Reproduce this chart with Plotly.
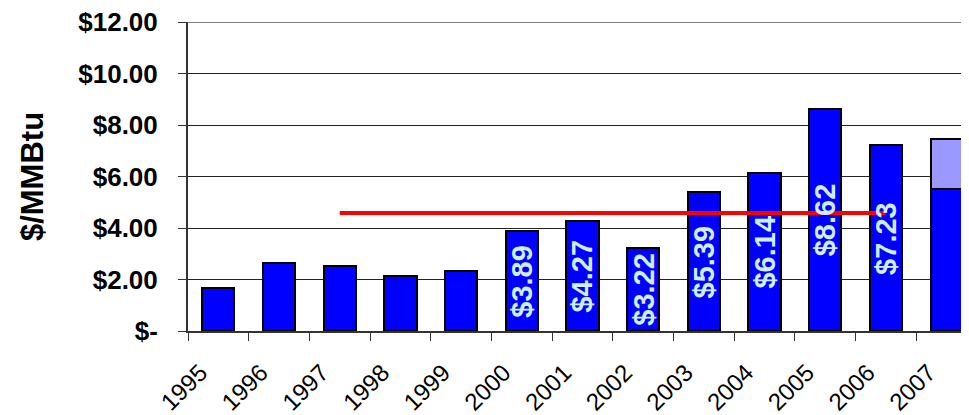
import plotly.graph_objects as go

years = ["1995", "1996", "1997", "1998", "1999", "2000", "2001",
         "2002", "2003", "2004", "2005", "2006", "2007"]
base_values = [1.67, 2.64, 2.54, 2.14, 2.33, 3.89, 4.27,
               3.22, 5.39, 6.14, 8.62, 7.23, 5.51]
extra_values = [None] * 12 + [1.96]
labeled_years = ["2000", "2001", "2002", "2003", "2004", "2005", "2006"]
avg_years = ["1997", "2006"]
avg_value = [4.58, 4.58]
y_tick_vals = [0, 2, 4, 6, 8, 10, 12]
y_tick_text = ["$-", "$2.00", "$4.00", "$6.00", "$8.00", "$10.00", "$12.00"]

FONT = "Liberation Sans, Arial, sans-serif"

fig = go.Figure()
fig.add_trace(go.Bar(
    x=years, y=base_values, width=0.53,
    marker=dict(color="#0000FF", line=dict(color="#000000", width=2)),
    showlegend=False,
))
fig.add_trace(go.Bar(
    x=years, y=extra_values, width=0.53,
    marker=dict(color="#9999FF", line=dict(color="#000000", width=2)),
    showlegend=False,
))
fig.add_trace(go.Scatter(
    x=avg_years, y=avg_value, mode="lines",
    line=dict(color="#FF0000", width=4),
    showlegend=False,
))

for i, (yr, v) in enumerate(zip(years, base_values)):
    if yr in labeled_years:
        fig.add_annotation(
            x=i, y=v / 2, text=f"${v:.2f}", textangle=-90,
            showarrow=False, xref="x", yref="y",
            font=dict(family=FONT, size=29, color="#CCEEFF", weight="bold"),
        )

# plot area top border (gray)
fig.add_shape(type="line", xref="paper", yref="y", x0=0, x1=1, y0=12, y1=12,
              line=dict(color="#808080", width=2), layer="above")

fig.update_layout(
    width=969, height=415,
    margin=dict(l=180, r=0, t=14, b=92, autoexpand=False),
    paper_bgcolor="white", plot_bgcolor="white",
    barmode="stack", bargap=0,
    font=dict(family=FONT, color="#000000"),
)
fig.update_xaxes(
    type="category", range=[-0.5, 12.5],
    tickson="boundaries", ticks="outside", ticklen=8, tickwidth=1, tickcolor="#333333",
    showline=True, linecolor="#333333", linewidth=2,
    tickangle=-45, tickfont=dict(family=FONT, size=24, color="#000000"),
    showgrid=False, ticklabelstandoff=16, ticklabelshift=-18,
    ticklabeloverflow="allow", automargin=False,
)
fig.update_yaxes(
    range=[0, 12.001], tickvals=y_tick_vals, ticktext=y_tick_text,
    ticks="outside", ticklen=8, tickwidth=1, tickcolor="#333333",
    showline=True, linecolor="#333333", linewidth=2,
    showgrid=True, gridcolor="#222222", gridwidth=1,
    zeroline=False,
    tickfont=dict(family=FONT, size=26, color="#000000", weight="bold"),
    ticklabelstandoff=15, ticklabeloverflow="allow", automargin=False,
    title=dict(text="$/MMBtu", font=dict(family=FONT, size=31, weight="bold"), standoff=25),
)

fig.write_html("out.html")
